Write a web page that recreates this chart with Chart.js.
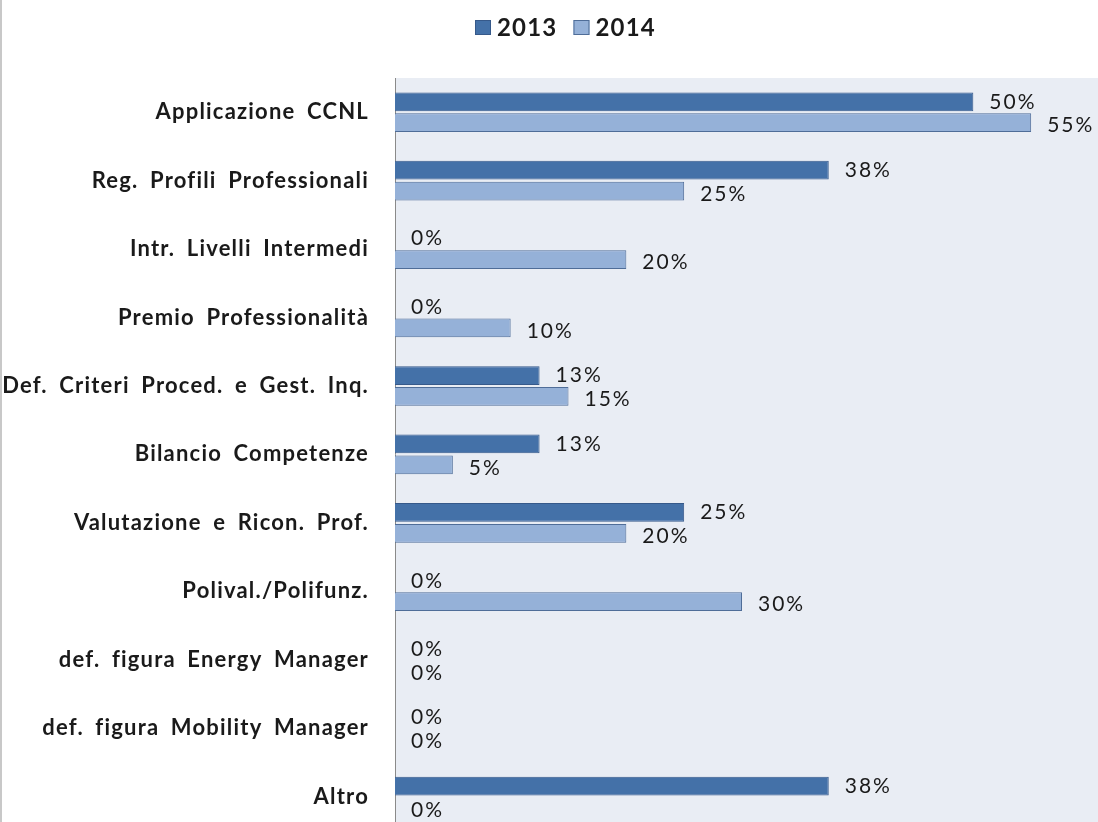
<!DOCTYPE html>
<html>
<head>
<meta charset="utf-8">
<script src="https://cdn.jsdelivr.net/npm/chart.js@4.4.1/dist/chart.umd.min.js"></script>
<style>
  html, body { margin: 0; padding: 0; background: #fff; overflow: hidden; }
  #wrap { position: relative; width: 1098px; height: 844px; border-left: 2px solid #c8c8c8; box-sizing: border-box; }
  canvas { display: block; }
</style>
</head>
<body>
<div id="wrap"><canvas id="chart" width="1096" height="844"></canvas></div>
<script>
var categories = [
  "Applicazione CCNL",
  "Reg. Profili Professionali",
  "Intr. Livelli Intermedi",
  "Premio Professionalità",
  "Def. Criteri Proced. e Gest. Inq.",
  "Bilancio Competenze",
  "Valutazione e Ricon. Prof.",
  "Polival./Polifunz.",
  "def. figura Energy Manager",
  "def. figura Mobility Manager",
  "Altro"
];
var seriesNames = ["2013", "2014"];
var values2013 = [50, 37.5, 0, 0, 12.5, 12.5, 25, 0, 0, 0, 37.5];
var values2014 = [55, 25, 20, 10, 15, 5, 20, 30, 0, 0, 0];

var FONT = "Lato";

function spacing(c) {
  c.letterSpacing = "1.2px";
  c.wordSpacing = "5px";
}

// plot background, value labels and legend
var decor = {
  id: "decor",
  beforeLayout: function (chart) {
    spacing(chart.ctx);
  },
  beforeDraw: function (chart) {
    var a = chart.chartArea, c = chart.ctx;
    spacing(c);
    c.save();
    c.fillStyle = "#e9edf4";
    c.fillRect(a.left, a.top, chart.width - a.left, a.bottom - a.top);
    c.restore();
  },
  afterDatasetsDraw: function (chart) {
    var c = chart.ctx;
    c.save();
    c.letterSpacing = "2px";
    c.font = "21px " + FONT;
    c.fillStyle = "#1a1a1a";
    c.textAlign = "left";
    c.textBaseline = "middle";
    chart.data.datasets.forEach(function (ds, i) {
      var meta = chart.getDatasetMeta(i);
      meta.data.forEach(function (bar, j) {
        var txt = Math.round(ds.data[j]) + "%";
        var dy = i === 0 ? 0 : 3;
        c.fillText(txt, bar.x + 16, bar.y + dy);
      });
    });
    // legend
    var x = 473, y = 27;
    c.letterSpacing = "1.2px";
    c.font = "bold 24px " + FONT;
    chart.data.datasets.forEach(function (ds) {
      c.fillStyle = ds.backgroundColor;
      c.fillRect(x, y - 7, 16, 15);
      c.strokeStyle = ds.borderColor;
      c.lineWidth = 1;
      c.strokeRect(x + 0.5, y - 6.5, 15, 14);
      c.fillStyle = "#1a1a1a";
      c.fillText(ds.label, x + 22, y + 1);
      x += 22 + c.measureText(ds.label).width + 16;
    });
    c.restore();
  }
};

new Chart(document.getElementById("chart"), {
  type: "bar",
  data: {
    labels: categories,
    datasets: [
      {
        label: seriesNames[0],
        data: values2013,
        backgroundColor: "#4471a8",
        borderColor: "#36598a",
        borderWidth: 1,
        barPercentage: 0.9,
        categoryPercentage: 0.61
      },
      {
        label: seriesNames[1],
        data: values2014,
        backgroundColor: "#95b1d8",
        borderColor: "#4f6d98",
        borderWidth: 1,
        barPercentage: 0.9,
        categoryPercentage: 0.61
      }
    ]
  },
  options: {
    indexAxis: "y",
    responsive: false,
    animation: false,
    layout: { padding: { top: 78, right: 9, bottom: 0, left: 0 } },
    plugins: {
      legend: { display: false },
      tooltip: { enabled: false }
    },
    scales: {
      x: {
        min: 0,
        max: 60,
        display: false,
        grid: { display: false }
      },
      y: {
        grid: { display: true, drawOnChartArea: false, drawTicks: true, tickLength: 26, tickColor: "rgba(0,0,0,0)" },
        border: { display: true, color: "#8a8a8a", width: 1 },
        ticks: { color: "#1a1a1a", font: { family: FONT, size: 22, weight: "bold" }, padding: 0 },
        afterFit: function (scale) { scale.width = 393; }
      }
    }
  },
  plugins: [decor]
});
</script>
</body>
</html>
